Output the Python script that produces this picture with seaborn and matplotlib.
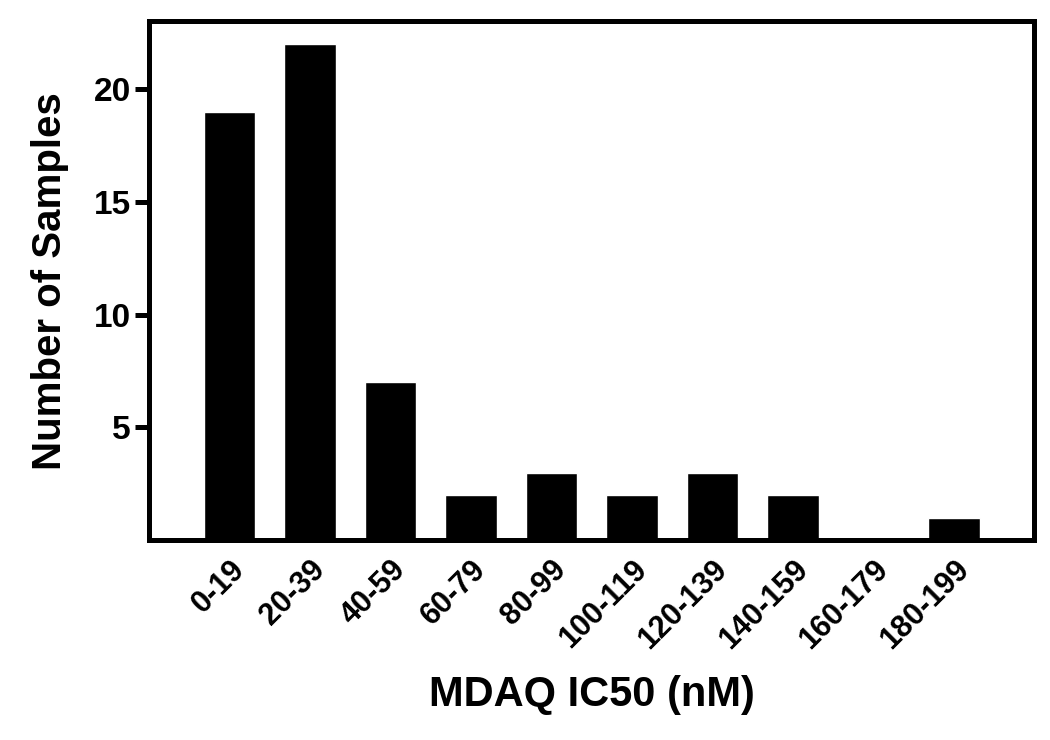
import matplotlib
matplotlib.use('Agg')
import matplotlib.pyplot as plt
import seaborn as sns
import pandas as pd

# histogram bins and counts
bins = ['0-19', '20-39', '40-59', '60-79', '80-99',
        '100-119', '120-139', '140-159', '160-179', '180-199']
counts = [19, 22, 7, 2, 3, 2, 3, 2, 0, 1]
yticks = [5, 10, 15, 20]

df = pd.DataFrame({'bin': bins, 'count': counts})

sns.set_style('white')
plt.rcParams['font.family'] = ['Liberation Sans', 'DejaVu Sans']
plt.rcParams['font.weight'] = 'bold'
plt.rcParams['text.color'] = 'black'
plt.rcParams['axes.labelcolor'] = 'black'
plt.rcParams['xtick.color'] = 'black'
plt.rcParams['ytick.color'] = 'black'

fig = plt.figure(figsize=(10.5, 7.4), dpi=100)
ax = fig.add_axes([0.142, 0.27, 0.843, 0.701])

sns.barplot(x='bin', y='count', data=df, color='black', width=0.64,
            saturation=1, ax=ax)
ax.set_xlim(-1, 10)
ax.set_ylim(0, 23)
ax.set_yticks(yticks)

for s in ax.spines.values():
    s.set_linewidth(3.6)
    s.set_color('black')

ax.tick_params(axis='y', left=True, length=10, width=3.6, labelsize=24, pad=3)
ax.tick_params(axis='x', bottom=False, labelsize=22, pad=7)
plt.setp(ax.get_xticklabels(), rotation=45, ha='right', rotation_mode='anchor',
         fontweight='bold')
plt.setp(ax.get_yticklabels(), fontweight='bold')

ax.set_xlabel('MDAQ IC50 (nM)', fontsize=30, fontweight='bold', labelpad=14)
ax.set_ylabel('Number of Samples', fontsize=29, fontweight='bold', labelpad=18)

fig.savefig('out.png', dpi=100)
